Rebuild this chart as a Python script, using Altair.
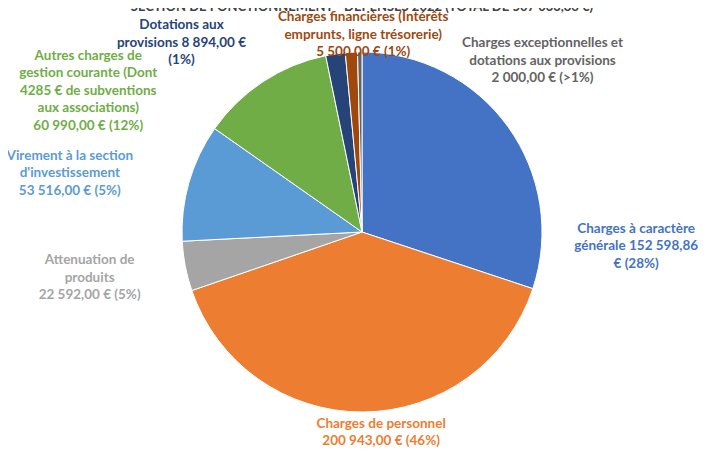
import altair as alt
import pandas as pd

# ---- data ----
categories = [
    "Charges à caractère générale",
    "Charges de personnel",
    "Attenuation de produits",
    "Virement à la section d'investissement",
    "Autres charges de gestion courante",
    "Dotations aux provisions",
    "Charges financières",
    "Charges exceptionnelles et dotations aux provisions",
]
values = [152598.86, 200943.00, 22592.00, 53516.00, 60990.00, 8894.00, 5500.00, 2000.00]
label_texts = [
    "Charges à caractère\ngénérale   152 598,86\n€  (28%)",
    "Charges de personnel\n200 943,00  €  (46%)",
    "Attenuation de\nproduits\n22 592,00  €  (5%)",
    "Virement à la section\nd'investissement\n53 516,00  €  (5%)",
    "Autres charges de\ngestion courante (Dont\n4285 € de subventions\naux associations)\n60 990,00  €  (12%)",
    "Dotations aux\nprovisions  8 894,00  €\n(1%)",
    "Charges financières (Intérêts\nemprunts, ligne trésorerie)\n5 500,00  €  (1%)",
    "Charges exceptionnelles et\ndotations aux provisions\n2 000,00  €  (>1%)",
]
slice_colors = ["#4472C4", "#ED7D31", "#A5A5A5", "#5B9BD5", "#70AD47", "#264478", "#9E480E", "#636363"]
title_text = "SECTION DE FONCTIONNEMENT - DÉPENSES 2022 (TOTAL DE 507 033,86 €)"

df = pd.DataFrame({
    "categorie": categories,
    "montant": values,
    "ordre": list(range(len(categories))),
    "etiquette": label_texts,
})
title_df = pd.DataFrame({"titre": [title_text]})

color_scale = alt.Scale(domain=categories, range=slice_colors)

pie = alt.Chart(df).mark_arc(radius=180, stroke="white", strokeWidth=1).encode(
    theta=alt.Theta("montant:Q", stack=True),
    order=alt.Order("ordre:Q"),
    color=alt.Color("categorie:N", scale=color_scale, legend=None),
)

# label nudges (layout only): radius, dx, dy (dy = offset of the first line)
label_layout = {
    0: (200, 112, 114),
    1: (200, 18, -8),
    2: (200, -76, -10),
    3: (200, -100, -21),
    4: (200, -164, -9),
    5: (200, -151, -9),
    6: (200, 13, -15),
    7: (200, 183, 11),
}

labels = []
for i, cat in enumerate(categories):
    r, dx, dy = label_layout[i]
    lab = (
        alt.Chart(df)
        .transform_window(cumul="sum(montant)", sort=[alt.SortField("ordre")])
        .transform_calculate(milieu="datum.cumul - datum.montant / 2")
        .transform_filter(alt.datum.ordre == i)
        .mark_text(
            radius=r, dx=dx, dy=dy, font="Lato", fontSize=13.5, fontWeight="bold",
            lineBreak="\n", lineHeight=17.5, align="center", baseline="middle",
        )
        .encode(
            theta=alt.Theta("milieu:Q", stack=None),
            text="etiquette:N",
            color=alt.Color("categorie:N", scale=color_scale, legend=None),
        )
    )
    labels.append(lab)

# chart title, placed straight above the pie (cut by the top edge as in the reference)
title = alt.Chart(title_df).mark_text(
    radius=221, font="Lato", fontSize=13, fontWeight="bold", color="#404040",
    align="center", baseline="alphabetic",
).encode(
    theta=alt.Theta(datum=0),
    text="titre:N",
)

chart = (
    alt.layer(pie, title, *labels)
    .properties(
        width=672,
        height=438,
        padding={"left": 18, "top": 5, "right": 0, "bottom": 0},
        autosize="none",
        background="white",
    )
    .configure_view(stroke=None)
)

chart.save("out.html", embed_options={"renderer": "svg", "actions": False})
